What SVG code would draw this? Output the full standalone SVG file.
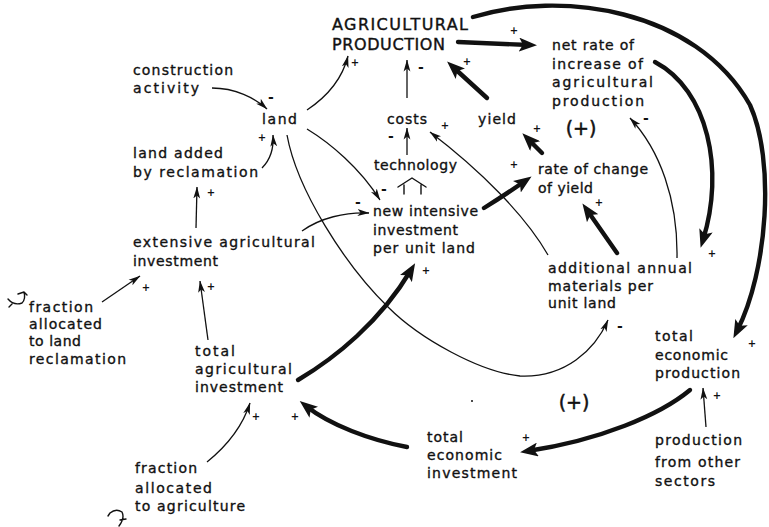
<svg xmlns="http://www.w3.org/2000/svg" width="769" height="527" viewBox="0 0 769 527">
  <defs>
    <style>
      .lbl { font-family: "DejaVu Sans", "Liberation Sans", sans-serif; font-size: 14px; fill: #111; stroke: #111; stroke-width: 0.35; }
      .cap { font-family: "DejaVu Sans", "Liberation Sans", sans-serif; font-size: 16px; fill: #111; stroke: #111; stroke-width: 0.4; }
      .loop { font-family: "DejaVu Sans", "Liberation Sans", sans-serif; font-size: 19px; fill: #111; stroke: #111; stroke-width: 0.5; text-anchor: middle; }
      .plus { font-family: "DejaVu Sans", sans-serif; font-size: 10px; font-weight: bold; fill: #111; text-anchor: middle; }
      .minus { font-family: "DejaVu Sans", sans-serif; font-size: 14px; font-weight: bold; fill: #111; text-anchor: middle; }
      .thin { fill: none; stroke: #111; stroke-width: 1.3; marker-end: url(#ah); }
      .thick { fill: none; stroke: #111; stroke-width: 4.4; stroke-linecap: round; marker-end: url(#AH); }
      .sym { fill: none; stroke: #111; stroke-width: 1.4; stroke-linecap: round; stroke-linejoin: round; }
    </style>
    <!-- small filled head for thin links -->
    <marker id="ah" markerUnits="userSpaceOnUse" viewBox="0 0 12 8" markerWidth="12" markerHeight="8" refX="11.5" refY="4" orient="auto">
      <path d="M0,0.6 L12,4 L0,7.4 L3,4 Z" fill="#111"/>
    </marker>
    <!-- large head for heavy links; tip sits 8px past the line end -->
    <marker id="AH" markerUnits="userSpaceOnUse" viewBox="0 0 18 14" markerWidth="18" markerHeight="14" refX="10" refY="7" orient="auto">
      <path d="M0,0 L18,7 L0,14 L4,7 Z" fill="#111"/>
    </marker>
  </defs>

  <rect width="769" height="527" fill="#fff"/>

  <!-- connectors -->
  <g id="connectors">
    <!-- thin links -->
    <path class="thin" d="M212,88 C235,88 255,98 267,109"/>
    <path class="thin" d="M307,110 C325,98 342,80 348,56"/>
    <path class="thin" d="M262,168 C270,160 274,150 273,135"/>
    <path class="thin" d="M196,228 L197,187"/>
    <path class="thin" d="M102,302 L140,276"/>
    <path class="thin" d="M208,340 L200,281"/>
    <path class="thin" d="M207,462 C228,445 243,425 250,403"/>
    <path class="thin" d="M706,427 L703,388"/>
    <path class="thin" d="M407,98 L407,60"/>
    <path class="thin" d="M407,155 L407,128"/>
    <path class="thin" d="M307,129 C330,143 360,168 380,200"/>
    <path class="thin" d="M302,231 C320,218 345,212 369,213"/>
    <path class="thin" d="M548,255 C525,215 480,170 430,132"/>
    <path class="thin" d="M677,258 C678,200 660,150 630,118"/>
    <path class="thin" d="M287,135 C297,190 345,265 388,307 C420,339 480,372 520,376 C565,378 595,350 608,320"/>

    <!-- heavy links -->
    <path class="thick" d="M458,42 L529,45"/>
    <path class="thick" d="M487,98 L453,67"/>
    <path class="thick" d="M542,153 L528,139"/>
    <path class="thick" d="M617,253 L587,210"/>
    <path class="thick" d="M484,208 C500,198 515,188 525,181"/>
    <path class="thick" d="M298,380 C335,358 380,322 411,270"/>
    <path class="thick" d="M407,447 C370,440 330,425 306,406"/>
    <path class="thick" d="M690,390 C660,415 600,440 528,451"/>
    <path class="thick" d="M655,62 C708,90 725,170 703,240"/>
    <path class="thick" d="M473,17 C560,-10 695,8 750,105 C775,160 768,270 737,331"/>
  </g>

  <!-- link polarities -->
  <g id="signs">
    <text class="minus" x="271" y="102">-</text>
    <text class="plus" x="355" y="66">+</text>
    <text class="plus" x="262" y="141">+</text>
    <text class="plus" x="211" y="196">+</text>
    <text class="plus" x="146" y="291">+</text>
    <text class="plus" x="211" y="290">+</text>
    <text class="plus" x="256" y="420">+</text>
    <text class="plus" x="295" y="420">+</text>
    <text class="plus" x="526" y="441">+</text>
    <text class="plus" x="717" y="399">+</text>
    <text class="plus" x="752" y="347">+</text>
    <text class="plus" x="514" y="34">+</text>
    <text class="plus" x="712" y="257">+</text>
    <text class="minus" x="646" y="123">-</text>
    <text class="plus" x="599" y="206">+</text>
    <text class="plus" x="537" y="132">+</text>
    <text class="plus" x="467" y="65">+</text>
    <text class="minus" x="421" y="72">-</text>
    <text class="minus" x="391" y="141">-</text>
    <text class="plus" x="445" y="129">+</text>
    <text class="minus" x="384" y="194">-</text>
    <text class="minus" x="358" y="207">-</text>
    <text class="plus" x="514" y="168">+</text>
    <text class="plus" x="426" y="274">+</text>
    <text class="minus" x="620" y="331">-</text>
  </g>

  <!-- delay mark under technology -->
  <g id="delay">
    <path class="sym" d="M398,187 L412,178 L426,187 M404,185 V194 M421,185 V194"/>
  </g>

  <!-- source marks -->
  <g id="sources">
    <path class="sym" d="M8,299 Q14,306 22,303 Q26,299 24,292 M18,294 L24,292 L27,295 M12,304 L9,307"/>
    <path class="sym" d="M110,513 Q116,508 122,512 Q125,518 119,526 M120,520 L126,519 M110,513 L108,516"/>
  </g>

  <!-- loop markers -->
  <g id="loops">
    <text class="loop" x="581" y="135">(+)</text>
    <text class="loop" x="574" y="409">(+)</text>
    <circle cx="472" cy="401" r="1" fill="#111"/>
  </g>

  <!-- nodes -->
  <g id="agricultural-production">
    <text class="cap" x="332" y="30" textLength="136" lengthAdjust="spacing">AGRICULTURAL</text>
    <text class="cap" x="332" y="50" textLength="113" lengthAdjust="spacing">PRODUCTION</text>
  </g>
  <g id="construction-activity">
    <text class="lbl" x="133" y="75" textLength="100" lengthAdjust="spacing">construction</text>
    <text class="lbl" x="133" y="93" textLength="66" lengthAdjust="spacing">activity</text>
  </g>
  <g id="land">
    <text class="lbl" x="262" y="124" textLength="35" lengthAdjust="spacing">land</text>
  </g>
  <g id="land-added">
    <text class="lbl" x="133" y="158" textLength="90" lengthAdjust="spacing">land added</text>
    <text class="lbl" x="133" y="177" textLength="125" lengthAdjust="spacing">by reclamation</text>
  </g>
  <g id="extensive-investment">
    <text class="lbl" x="133" y="247" textLength="182" lengthAdjust="spacing">extensive agricultural</text>
    <text class="lbl" x="133" y="266" textLength="85" lengthAdjust="spacing">investment</text>
  </g>
  <g id="fraction-reclamation">
    <text class="lbl" x="29" y="312" textLength="64" lengthAdjust="spacing">fraction</text>
    <text class="lbl" x="29" y="329" textLength="73" lengthAdjust="spacing">allocated</text>
    <text class="lbl" x="29" y="346" textLength="52" lengthAdjust="spacing">to land</text>
    <text class="lbl" x="29" y="364" textLength="97" lengthAdjust="spacing">reclamation</text>
  </g>
  <g id="total-agricultural-investment">
    <text class="lbl" x="195" y="356" textLength="40" lengthAdjust="spacing">total</text>
    <text class="lbl" x="195" y="374" textLength="97" lengthAdjust="spacing">agricultural</text>
    <text class="lbl" x="195" y="392" textLength="88" lengthAdjust="spacing">investment</text>
  </g>
  <g id="fraction-agriculture">
    <text class="lbl" x="135" y="473" textLength="62" lengthAdjust="spacing">fraction</text>
    <text class="lbl" x="135" y="493" textLength="77" lengthAdjust="spacing">allocated</text>
    <text class="lbl" x="135" y="511" textLength="110" lengthAdjust="spacing">to agriculture</text>
  </g>
  <g id="costs">
    <text class="lbl" x="387" y="124" textLength="40" lengthAdjust="spacing">costs</text>
  </g>
  <g id="technology">
    <text class="lbl" x="374" y="170" textLength="83" lengthAdjust="spacing">technology</text>
  </g>
  <g id="yield">
    <text class="lbl" x="478" y="124" textLength="38" lengthAdjust="spacing">yield</text>
  </g>
  <g id="net-rate">
    <text class="lbl" x="552" y="50" textLength="82" lengthAdjust="spacing">net rate of</text>
    <text class="lbl" x="552" y="68.5" textLength="91" lengthAdjust="spacing">increase of</text>
    <text class="lbl" x="552" y="87" textLength="101" lengthAdjust="spacing">agricultural</text>
    <text class="lbl" x="552" y="105.5" textLength="92" lengthAdjust="spacing">production</text>
  </g>
  <g id="rate-of-change">
    <text class="lbl" x="538" y="174" textLength="110" lengthAdjust="spacing">rate of change</text>
    <text class="lbl" x="538" y="193" textLength="55" lengthAdjust="spacing">of yield</text>
  </g>
  <g id="new-intensive-investment">
    <text class="lbl" x="373" y="216" textLength="105" lengthAdjust="spacing">new intensive</text>
    <text class="lbl" x="373" y="235" textLength="85" lengthAdjust="spacing">investment</text>
    <text class="lbl" x="373" y="253" textLength="102" lengthAdjust="spacing">per unit land</text>
  </g>
  <g id="additional-materials">
    <text class="lbl" x="548" y="273" textLength="144" lengthAdjust="spacing">additional annual</text>
    <text class="lbl" x="548" y="291" textLength="105" lengthAdjust="spacing">materials per</text>
    <text class="lbl" x="548" y="308" textLength="68" lengthAdjust="spacing">unit land</text>
  </g>
  <g id="total-economic-production">
    <text class="lbl" x="655" y="341" textLength="38" lengthAdjust="spacing">total</text>
    <text class="lbl" x="655" y="360" textLength="73" lengthAdjust="spacing">economic</text>
    <text class="lbl" x="655" y="378" textLength="85" lengthAdjust="spacing">production</text>
  </g>
  <g id="other-sectors">
    <text class="lbl" x="655" y="445" textLength="87" lengthAdjust="spacing">production</text>
    <text class="lbl" x="655" y="467" textLength="85" lengthAdjust="spacing">from other</text>
    <text class="lbl" x="655" y="486" textLength="60" lengthAdjust="spacing">sectors</text>
  </g>
  <g id="total-economic-investment">
    <text class="lbl" x="427" y="442" textLength="36" lengthAdjust="spacing">total</text>
    <text class="lbl" x="427" y="460" textLength="75" lengthAdjust="spacing">economic</text>
    <text class="lbl" x="427" y="478" textLength="90" lengthAdjust="spacing">investment</text>
  </g>
</svg>
